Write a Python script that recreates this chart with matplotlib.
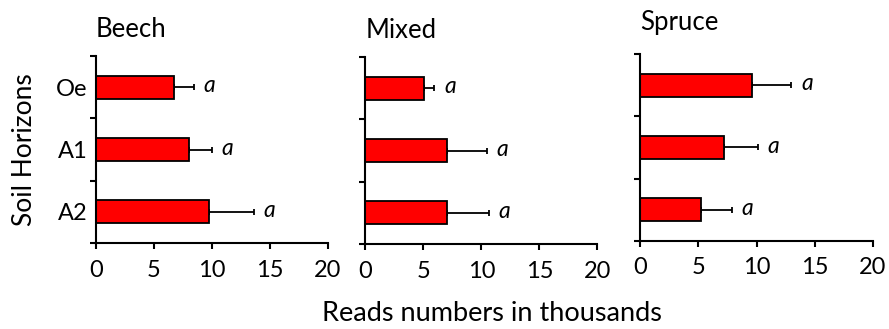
import matplotlib.pyplot as plt
import numpy as np

plt.rcParams['font.family'] = ['Lato', 'DejaVu Sans']

# soil horizons, top to bottom
horizons = ['Oe', 'A1', 'A2']
forests = ['Beech', 'Mixed', 'Spruce']

# mean read numbers (thousands) and upper error
beech = [6.7, 8.0, 9.7]
beech_err = [1.75, 2.0, 3.9]
mixed = [5.05, 7.0, 7.05]
mixed_err = [0.9, 3.45, 3.6]
spruce = [9.65, 7.2, 5.2]
spruce_err = [3.35, 2.9, 2.7]
letters = ['a', 'a', 'a']

means = [beech, mixed, spruce]
errs = [beech_err, mixed_err, spruce_err]

fig = plt.figure(figsize=(8.89, 3.29), dpi=100)

# axes boxes [left, bottom, width, height]
boxes = [[0.108, 0.261, 0.261, 0.569],
         [0.411, 0.258, 0.261, 0.569],
         [0.720, 0.268, 0.262, 0.568]]
title_y = [1.10, 1.10, 1.13]

y = np.arange(len(horizons))
for i in range(3):
    ax = fig.add_axes(boxes[i])
    ax.barh(y, means[i], height=0.37, color='#ff0000', edgecolor='black',
            linewidth=1.3, zorder=2)
    ax.errorbar(means[i], y, xerr=[np.zeros(3), errs[i]], fmt='none',
                ecolor='black', elinewidth=1.3, capsize=2.5, capthick=1.3,
                zorder=1)
    for j in range(3):
        ax.annotate(letters[j], (means[i][j] + errs[i][j], y[j]),
                    xytext=(7, 1), textcoords='offset points',
                    va='center', ha='left', style='italic', fontsize=16.5)
    ax.set_xlim(0, 20)
    ax.set_ylim(2.5, -0.5)
    ax.set_xticks([0, 5, 10, 15, 20])
    ax.set_yticks(y)
    ax.set_yticks([-0.5, 0.5, 1.5, 2.5], minor=True)
    ax.tick_params(axis='y', which='major', length=0, labelsize=17, pad=6)
    ax.tick_params(axis='y', which='minor', length=4, width=1.5)
    ax.tick_params(axis='x', length=4, width=1.5, labelsize=17, pad=8)
    if i == 0:
        ax.set_yticklabels(horizons)
    else:
        ax.set_yticklabels([])
    for s in ['top', 'right']:
        ax.spines[s].set_visible(False)
    for s in ['left', 'bottom']:
        ax.spines[s].set_linewidth(1.5)
    ax.text(0, title_y[i], forests[i], transform=ax.transAxes,
            ha='left', va='baseline', fontsize=18.5)

fig.text(0.027, 0.545, 'Soil Horizons', rotation=90, ha='center',
         va='center', fontsize=19)
fig.text(0.553, 0.048, 'Reads numbers in thousands', ha='center',
         va='center', fontsize=19.5)

fig.savefig('out.png', dpi=100)
